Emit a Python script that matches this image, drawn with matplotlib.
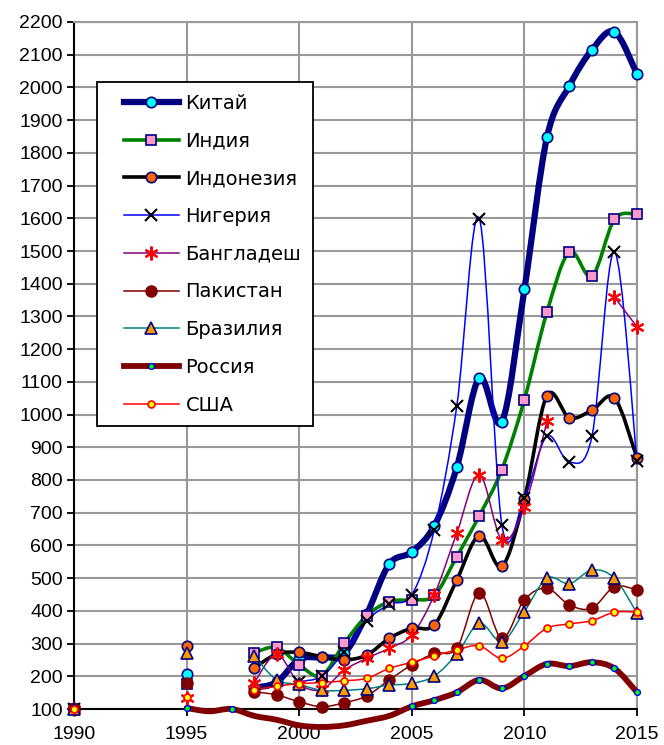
import numpy as np
import matplotlib
matplotlib.use("Agg")
import matplotlib.pyplot as plt
from matplotlib.path import Path
from matplotlib.patches import PathPatch
from matplotlib.lines import Line2D
from matplotlib.legend_handler import HandlerLine2D

plt.rcParams['font.family'] = ['Liberation Sans', 'DejaVu Sans']

n = None
years = list(range(1990, 2016))

china = [100, n, n, n, n, 206, n, n, 165, 182, 252, 258, 270, 390, 543, 580,
         660, 839, 1112, 978, 1383, 1847, 2005, 2115, 2170, 2041]
india = [100, n, n, n, n, 175, n, n, 272, 288, 235, 202, 301, 385, 428, 434,
         447, 566, 691, 832, 1046, 1313, 1497, 1423, 1597, 1612]
indonesia = [100, n, n, n, n, 293, n, n, 225, 268, 273, 260, 250, 265, 316, 347,
             357, 495, 630, 536, 742, 1058, 990, 1013, 1051, 867]
nigeria = [100, n, n, n, n, n, n, n, n, n, 184, 200, 275, 370, 420, 449,
           648, 1027, 1599, 663, 745, 934, 854, 934, 1498, 857]
bangladesh = [100, n, n, n, n, 135, n, n, 180, 267, 177, 160, 219, 255, 286, 326,
              449, 638, 816, 617, 717, 979, n, n, 1359, 1268]
pakistan = [100, n, n, n, n, 178, n, n, 153, 143, 122, 107, 119, 140, 189, 235,
            270, 286, 456, 316, 434, 469, 418, 408, 474, 464]
brazil = [100, n, n, n, n, 270, n, n, 262, 189, 175, 157, 157, 162, 173, 178,
          201, 268, 362, 306, 398, 500, 483, 525, 500, 393]
russia = [100, n, n, n, n, 103, 93, 100, 79, 67, 50, 45, 50, 64, 79, 108,
          127, 151, 189, 163, 201, 238, 231, 243, 224, 151]
usa = [100, n, n, n, n, 138, n, n, 158, 170, 177, 181, 186, 194, 224, 243,
       262, 281, 293, 255, 293, 347, 360, 370, 396, 396]

names = ['Китай', 'Индия', 'Индонезия', 'Нигерия', 'Бангладеш',
         'Пакистан', 'Бразилия', 'Россия', 'США']
series = [china, india, indonesia, nigeria, bangladesh,
          pakistan, brazil, russia, usa]

# line colour, line width, marker, marker size, face, edge, edge width
styles = [
    ('#000080', 4.5, 'o', 7.5, '#00FFFF', '#000080', 1.2),
    ('#008000', 2.6, 's', 7.0, '#FF99CC', '#000080', 1.2),
    ('#000000', 2.6, 'o', 7.5, '#FF6600', '#000080', 1.2),
    ('#0000FF', 1.1, 'x', 9.0, '#000000', '#000000', 1.5),
    ('#800080', 1.1, (6, 2, 0), 10.0, '#FF0000', '#FF0000', 1.5),
    ('#800000', 1.1, 'o', 8.0, '#800000', '#800000', 1.0),
    ('#008080', 1.1, '^', 8.5, '#FF9900', '#000080', 1.2),
    ('#800000', 4.2, 'o', 4.2, '#00FF00', '#0000FF', 1.0),
    ('#FF0000', 1.1, 'o', 5.0, '#FFFF00', '#FF0000', 1.2),
]

Y0, Y1 = 100, 2200


def smooth_path(x, y):
    """Excel-like smoothed line, broken at missing values"""
    verts, codes = [], []
    x = np.asarray(x, float)
    y = np.asarray(y, float)
    ok = np.isfinite(y)
    i = 0
    while i < len(y):
        if not ok[i]:
            i += 1
            continue
        j = i
        while j + 1 < len(y) and ok[j + 1]:
            j += 1
        p = np.column_stack([x[i:j + 1], y[i:j + 1]])
        if len(p) > 1:
            verts.append(p[0])
            codes.append(Path.MOVETO)
            for k in range(len(p) - 1):
                p0 = p[k - 1] if k > 0 else p[k]
                p3 = p[k + 2] if k + 2 < len(p) else p[k + 1]
                verts += [p[k] + (p[k + 1] - p0) / 6,
                          p[k + 1] - (p3 - p[k]) / 6,
                          p[k + 1]]
                codes += [Path.CURVE4] * 3
        i = j + 1
    return Path(verts, codes) if verts else None


fig = plt.figure(figsize=(6.64, 7.45), dpi=100)
ax = fig.add_axes([74 / 664, 36 / 745, 563 / 664, 687 / 745])

handles = []
for name, vals, st in zip(names, series, styles):
    lc, lw, mk, ms, mfc, mec, mew = st
    v = np.array([np.nan if a is None else a for a in vals], float)
    path = smooth_path(years, v)
    if path is not None:
        ax.add_patch(PathPatch(path, fill=False, edgecolor=lc, lw=lw,
                               capstyle='round', joinstyle='round',
                               clip_on=False, zorder=3))
    # points below the axis minimum are not shown
    vm = np.where(v >= Y0, v, np.nan)
    ax.plot(years, vm, linestyle='none', marker=mk, ms=ms, mfc=mfc, mec=mec,
            mew=mew, clip_on=False, zorder=4)
    handles.append(Line2D([], [], color=lc, lw=lw, marker=mk, ms=ms,
                          mfc=mfc, mec=mec, mew=mew))

ax.set_xlim(1990, 2015)
ax.set_ylim(Y0, Y1)
ax.set_xticks(range(1990, 2016, 5))
ax.set_yticks(range(100, 2201, 100))
ax.tick_params(labelsize=14, width=1.3, length=5, color='black')
ax.tick_params(axis='x', pad=7)
ax.tick_params(axis='y', pad=3)
ax.grid(True, color='#999999', lw=1.5)
ax.set_axisbelow(True)
for s in ['top', 'right']:
    ax.spines[s].set_color('#999999')
    ax.spines[s].set_linewidth(1.5)
for s in ['left', 'bottom']:
    ax.spines[s].set_color('black')
    ax.spines[s].set_linewidth(1.5)
    ax.spines[s].set_zorder(2.5)

leg = ax.legend(handles, names, loc='upper left',
                bbox_to_anchor=((97 - 74) / 563, (709 - 82) / 687),
                prop={'family': 'DejaVu Sans', 'size': 14},
                frameon=True, fancybox=False, framealpha=1,
                edgecolor='black', handlelength=3.6, handletextpad=0.35,
                labelspacing=0.965, borderpad=0.6, borderaxespad=0,
                handler_map={Line2D: HandlerLine2D(xpad=0.77)})
leg.get_frame().set_linewidth(1.3)
leg.set_zorder(10)

fig.savefig('out.png', dpi=100)
